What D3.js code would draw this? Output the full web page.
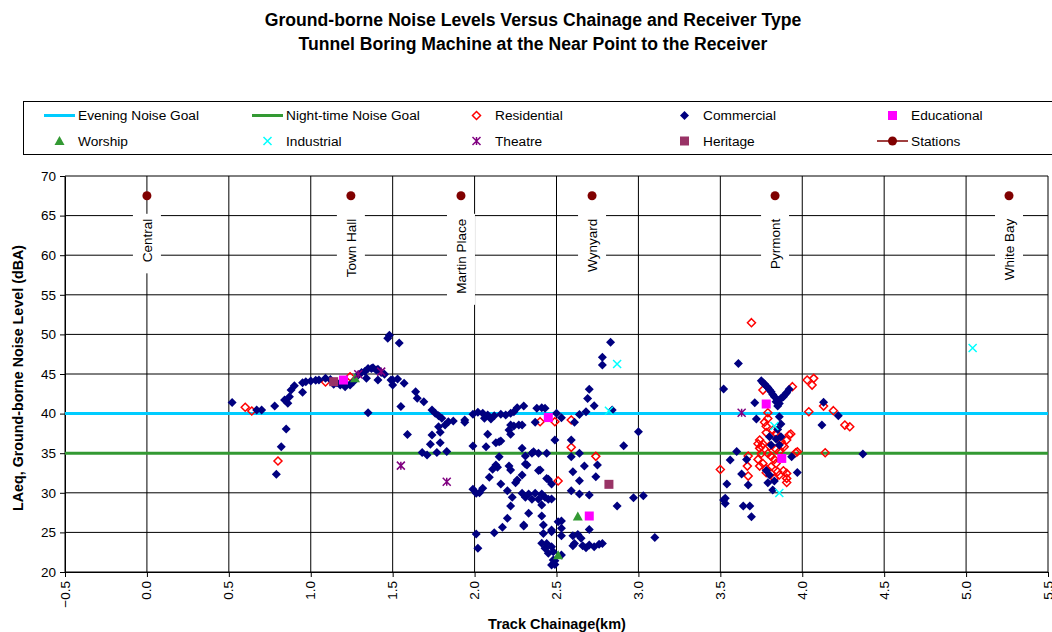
<!DOCTYPE html>
<html>
<head>
<meta charset="utf-8">
<script src="https://cdn.jsdelivr.net/npm/d3@7"></script>
<style>
  body { margin: 0; background: #fff; }
  svg { font-family: "Liberation Sans", Arial, sans-serif; }
</style>
</head>
<body>
<div id="chart"></div>
<script>
// ---- data: [chainage km, LAeq dBA] ----
const titleLines = ['Ground-borne Noise Levels Versus Chainage and Receiver Type',
  'Tunnel Boring Machine at the Near Point to the Receiver'];

const xTicks = [-0.5, 0.0, 0.5, 1.0, 1.5, 2.0, 2.5, 3.0, 3.5, 4.0, 4.5, 5.0, 5.5];
const yTicks = [20, 25, 30, 35, 40, 45, 50, 55, 60, 65, 70];

const eveningGoal = 40;
const nightGoal = 35;

const stationNames = ['Central', 'Town Hall', 'Martin Place', 'Wynyard', 'Pyrmont', 'White Bay'];
const stationKm = [0.0, 1.245, 1.917, 2.717, 3.834, 5.262];
const stationLevel = 67.5;

const residential = [
  [0.60, 40.8], [0.64, 40.33], [0.80, 34.01], [1.09, 44.0], [1.24, 44.66], [2.40, 38.98], [2.49, 38.98],
  [2.59, 39.19], [2.59, 35.74], [2.74, 34.6], [2.51, 31.5],
  [3.69, 51.48], [3.50, 32.95], [3.76, 42.97], [3.79, 40.11], [3.79, 39.39], [3.78, 38.4], [3.78, 37.6],
  [3.74, 36.66], [3.76, 36.16], [3.74, 35.61], [3.75, 34.97], [3.79, 34.97], [3.73, 34.22], [3.76, 33.71],
  [3.74, 33.37], [3.78, 33.08], [3.81, 33.29], [3.84, 33.71], [3.78, 32.53], [3.81, 32.45], [3.85, 32.66],
  [3.885, 32.78], [3.905, 32.45], [3.905, 31.82], [3.905, 31.31], [3.86, 32.24], [3.83, 31.82], [3.665, 33.37],
  [3.67, 32.11], [3.67, 34.64], [3.92, 37.29], [3.905, 36.66], [3.89, 35.82], [3.97, 35.18], [3.94, 43.4],
  [4.03, 44.24], [4.07, 44.45], [4.06, 43.6], [4.04, 40.24], [4.19, 40.37], [4.13, 40.95], [4.14, 35.06],
  [4.26, 38.55], [4.29, 38.34], [3.93, 37.42], [3.96, 35.06], [3.77, 38.9], [3.82, 37.9], [3.84, 37.5],
  [3.86, 37.0], [3.87, 36.5], [3.88, 36.0], [3.84, 35.5], [3.86, 35.2], [3.80, 35.9], [3.81, 34.6],
  [3.83, 34.2], [3.75, 35.9], [3.73, 36.2]
];

const commercial = [
  [0.52, 41.4], [0.67, 40.45], [0.70, 40.45], [0.78, 40.96], [0.85, 38.06], [0.82, 35.82], [0.79, 32.33],
  [0.84, 41.72], [0.86, 41.3], [0.87, 42.14], [0.88, 42.98], [0.90, 43.53], [0.95, 42.69], [0.95, 43.91],
  [0.97, 44.03], [1.00, 44.12], [1.03, 44.2], [1.05, 44.24], [1.09, 44.45], [1.12, 44.3], [1.14, 43.7],
  [1.16, 43.9], [1.18, 43.6], [1.21, 43.4], [1.22, 43.7], [1.24, 43.6], [1.26, 44.03], [1.29, 44.87],
  [1.31, 45.2], [1.33, 45.3], [1.34, 44.45], [1.35, 45.7], [1.37, 45.7], [1.38, 45.8], [1.40, 45.5],
  [1.41, 45.6], [1.41, 44.24], [1.43, 45.2], [1.45, 44.96], [1.49, 44.24], [1.35, 40.12], [1.47, 49.5],
  [1.48, 49.9],
  [1.54, 48.9], [1.50, 44.24], [1.53, 44.37], [1.57, 43.82], [1.50, 43.61], [1.64, 42.77], [1.65, 41.93],
  [1.69, 41.5], [1.55, 40.9], [1.74, 40.45], [1.76, 40.03], [1.78, 39.74], [1.80, 39.4], [1.84, 38.98],
  [1.87, 39.07], [1.82, 38.56], [1.78, 38.35], [1.79, 37.63], [1.74, 37.3], [1.59, 37.35], [1.94, 39.19],
  [1.94, 38.9], [1.73, 36.14], [1.79, 36.33], [1.68, 35.09], [1.71, 34.77], [1.77, 35.09], [1.83, 35.2],
  [1.99, 35.91], [1.99, 39.91],
  [2.02, 40.16], [2.05, 40.03], [2.06, 39.4], [2.08, 39.82], [2.10, 39.32], [2.12, 39.74], [2.16, 39.91],
  [2.19, 39.82], [2.22, 40.03], [2.24, 40.24], [2.26, 40.75], [2.30, 40.96], [2.38, 40.66], [2.41, 40.75],
  [2.43, 40.66], [2.22, 38.56], [2.24, 38.43], [2.27, 38.56], [2.29, 38.56], [2.21, 37.93], [2.22, 37.38],
  [2.16, 36.54], [2.08, 37.38], [2.37, 38.9], [2.50, 40.03], [2.49, 36.67],
  [1.99, 30.44], [2.01, 29.93], [2.05, 30.57], [2.03, 30.02], [2.07, 35.83], [2.13, 36.33], [2.15, 36.46],
  [2.15, 34.56], [2.13, 33.51], [2.11, 32.97], [2.14, 33.22], [2.09, 31.95], [2.16, 31.11], [2.21, 33.39],
  [2.22, 32.88], [2.20, 30.27], [2.25, 31.28], [2.29, 32.25], [2.29, 35.62], [2.31, 34.65], [2.32, 33.51],
  [2.35, 34.99], [2.39, 34.99], [2.44, 34.99], [2.39, 32.8], [2.45, 31.7], [2.47, 31.11], [2.23, 29.43],
  [2.22, 28.33], [2.20, 26.78], [2.29, 29.93], [2.31, 29.43], [2.33, 29.85], [2.35, 29.18], [2.37, 29.93],
  [2.39, 29.18], [2.41, 29.85], [2.43, 29.43], [2.45, 29.18], [2.41, 28.46], [2.33, 27.41], [2.30, 25.81],
  [2.41, 27.07], [2.42, 25.93], [2.47, 25.3], [2.41, 23.62], [2.43, 22.99], [2.45, 22.36], [2.47, 20.88],
  [2.49, 21.43], [2.17, 25.64], [2.12, 24.97], [2.01, 24.8], [2.02, 22.99], [2.51, 26.35], [2.26, 31.61],
  [2.31, 33.63], [2.36, 35.19], [2.40, 32.87], [2.44, 31.82], [2.44, 23.61], [2.42, 24.87], [2.30, 25.93],
  [2.48, 21.51], [2.47, 29.21], [2.47, 25.09], [2.47, 23.19], [2.48, 22.56], [2.49, 20.96],
  [2.70, 43.06], [2.69, 41.92], [2.73, 41.0], [2.68, 40.24], [2.64, 39.9], [2.61, 38.9], [2.53, 39.49],
  [2.84, 40.45], [3.00, 37.72], [2.91, 35.95], [2.59, 36.67], [2.64, 34.98], [2.59, 34.56], [2.75, 33.51],
  [2.67, 33.38], [2.60, 32.67], [2.64, 31.53], [2.74, 32.03], [2.59, 30.27], [2.64, 29.85], [2.70, 29.72],
  [2.97, 29.38], [3.03, 29.63], [2.87, 28.33], [2.70, 25.38], [2.53, 26.43], [2.53, 25.51], [2.53, 24.58],
  [2.60, 24.58], [2.63, 24.75], [2.65, 24.25], [2.60, 23.32], [2.66, 23.32], [2.68, 23.07], [2.73, 23.19],
  [2.76, 23.49], [2.78, 23.61], [3.10, 24.37], [2.83, 49.0], [2.78, 47.1], [2.78, 46.14], [2.53, 22.14],
  [2.70, 23.4], [2.61, 23.61],
  [3.61, 46.34], [3.52, 43.1], [3.60, 35.2], [3.56, 34.13], [3.66, 34.2], [3.63, 32.36], [3.67, 30.97],
  [3.54, 31.1], [3.52, 29.08], [3.53, 28.66], [3.53, 29.3], [3.64, 28.32], [3.68, 28.32], [3.69, 26.98],
  [3.71, 41.37], [3.72, 39.31],
  [3.75, 44.15], [3.76, 43.9], [3.77, 43.73], [3.78, 43.5], [3.79, 43.31], [3.80, 43.0], [3.81, 42.76],
  [3.82, 42.4], [3.83, 42.13], [3.84, 41.5], [3.85, 40.95], [3.86, 41.71], [3.87, 41.9], [3.885, 42.13],
  [3.895, 42.4], [3.905, 42.64], [3.92, 43.06], [3.86, 41.29],
  [3.86, 39.6], [3.87, 38.68], [3.87, 37.08], [3.80, 37.08], [3.81, 36.03], [3.86, 36.03], [3.935, 34.55],
  [3.97, 32.57], [3.80, 32.24], [3.79, 31.27], [3.82, 30.34], [4.13, 41.42], [4.22, 39.73], [4.12, 38.55],
  [4.37, 34.89], [3.85, 38.0], [3.84, 36.8], [3.78, 32.8], [3.83, 31.5]
];

const educational = [[1.20, 44.24], [2.45, 39.5], [2.70, 27.07], [3.78, 41.21], [3.875, 34.34]];
const worship = [[1.27, 44.45], [2.63, 27.0], [2.51, 22.1]];
const industrial = [[2.87, 46.26], [2.82, 40.37], [3.83, 38.43], [3.86, 29.97], [5.04, 48.28]];
const theatre = [[1.29, 44.96], [1.43, 45.3], [1.55, 33.43], [1.83, 31.4], [3.63, 40.11]];
const heritage = [[1.14, 44.03], [2.82, 31.07]];

// ---- drawing ----
class NoiseChart {
  constructor() {
    this.width = 1052;
    this.height = 632;
    this.plot = { left: 65, right: 1048, top: 176, bottom: 572 };

    this.x = d3.scaleLinear()
      .domain([-0.5, 5.5])
      .range([this.plot.left, this.plot.right]);

    this.y = d3.scaleLinear()
      .domain([20, 70])
      .range([this.plot.bottom, this.plot.top]);

    this.series = [
      { name: 'Residential', data: residential, shape: 'diamond', r: 4, fill: 'none', stroke: '#FF0000' },
      { name: 'Commercial', data: commercial, shape: 'diamond', r: 4.5, fill: '#000080', stroke: 'none' },
      { name: 'Educational', data: educational, shape: 'square', r: 4.5, fill: '#FF00FF', stroke: 'none' },
      { name: 'Worship', data: worship, shape: 'triangle', r: 5, fill: '#339933', stroke: 'none' },
      { name: 'Industrial', data: industrial, shape: 'cross', r: 4, fill: 'none', stroke: '#00FFFF' },
      { name: 'Theatre', data: theatre, shape: 'star', r: 4, fill: 'none', stroke: '#800080' },
      { name: 'Heritage', data: heritage, shape: 'square', r: 4.5, fill: '#993366', stroke: 'none' }
    ];
  }

  /**
   * Path for one marker, centred on 0,0.
   */
  markerPath(shape, r) {
    if (shape === 'diamond') return `M0,${-r}L${r},0L0,${r}L${-r},0Z`;
    if (shape === 'square') return `M${-r},${-r}h${2 * r}v${2 * r}h${-2 * r}Z`;
    if (shape === 'triangle') return `M0,${-r}L${r},${r * 0.8}L${-r},${r * 0.8}Z`;
    if (shape === 'cross') return `M${-r},${-r}L${r},${r}M${r},${-r}L${-r},${r}`;
    if (shape === 'star') return `M${-r},${-r}L${r},${r}M${r},${-r}L${-r},${r}M0,${-r}L0,${r}`;
    return d3.symbol(d3.symbolCircle, Math.PI * r * r)();
  }

  draw() {
    this.svg = d3.select('#chart').append('svg')
      .attr('width', this.width)
      .attr('height', this.height);

    this.svg.append('rect')
      .attr('width', this.width)
      .attr('height', this.height)
      .attr('fill', '#fff');

    this.drawTitle();
    this.drawLegend();
    this.drawGrid();
    this.drawAxes();
    this.drawGoals();
    this.drawSeries();
    this.drawStations();
  }

  drawTitle() {
    this.svg.append('g')
      .selectAll('text')
      .data(titleLines)
      .join('text')
      .attr('x', 533)
      .attr('y', (d, i) => 26 + i * 24)
      .attr('text-anchor', 'middle')
      .style('font-size', '17.6px')
      .style('font-weight', 'bold')
      .text(d => d);
  }

  /**
   * Legend box above the plot: two rows of five entries.
   * Each key is 31px wide, markers sit in the middle of it.
   */
  drawLegend() {
    let legend = this.svg.append('g').attr('id', 'legend');

    legend.append('rect')
      .attr('x', 23.5)
      .attr('y', 101.5)
      .attr('width', 1040)
      .attr('height', 53)
      .attr('fill', '#fff')
      .attr('stroke', '#000');

    let items = [
      { name: 'Evening Noise Goal', kind: 'line', color: '#00CCFF' },
      { name: 'Night-time Noise Goal', kind: 'line', color: '#339933' },
      this.series[0], this.series[1], this.series[2], this.series[3],
      this.series[4], this.series[5], this.series[6],
      { name: 'Stations', kind: 'station', color: '#800000' }
    ];
    let colX = [44, 252, 461, 669, 877];

    items.forEach((d, i) => {
      let cx = colX[i % 5];
      let cy = i < 5 ? 115.5 : 141;
      let g = legend.append('g').attr('transform', `translate(${cx},${cy})`);

      if (d.kind === 'line') {
        g.append('line')
          .attr('x1', 0).attr('x2', 31)
          .attr('stroke', d.color)
          .attr('stroke-width', 3);
      } else if (d.kind === 'station') {
        g.append('line')
          .attr('x1', 0).attr('x2', 31)
          .attr('stroke', d.color)
          .attr('stroke-width', 1.5);
        g.append('path')
          .attr('transform', 'translate(15.5,0)')
          .attr('d', this.markerPath('circle', 4.5))
          .attr('fill', d.color);
      } else {
        g.append('path')
          .attr('transform', 'translate(15.5,0)')
          .attr('d', this.markerPath(d.shape, d.r))
          .attr('fill', d.fill)
          .attr('stroke', d.stroke)
          .attr('stroke-width', 1.5);
      }

      g.append('text')
        .attr('x', 34)
        .attr('dy', '0.35em')
        .style('font-size', '13.7px')
        .text(d.name);
    });
  }

  drawGrid() {
    let grid = this.svg.append('g').attr('id', 'grid')
      .attr('stroke', '#000')
      .attr('stroke-width', 1);

    grid.selectAll('.hline')
      .data(yTicks)
      .join('line')
      .attr('class', 'hline')
      .attr('x1', this.plot.left)
      .attr('x2', this.plot.right)
      .attr('y1', d => this.y(d))
      .attr('y2', d => this.y(d));

    grid.selectAll('.vline')
      .data(xTicks)
      .join('line')
      .attr('class', 'vline')
      .attr('x1', d => this.x(d))
      .attr('x2', d => this.x(d))
      .attr('y1', this.plot.top)
      .attr('y2', this.plot.bottom);
  }

  drawAxes() {
    let yAxis = d3.axisLeft(this.y)
      .tickValues(yTicks)
      .tickSize(5)
      .tickPadding(4)
      .tickSizeOuter(0);

    let xAxis = d3.axisBottom(this.x)
      .tickValues(xTicks)
      .tickFormat(d3.format('.1f'))
      .tickSize(5)
      .tickSizeOuter(0);

    let gy = this.svg.append('g')
      .attr('transform', `translate(${this.plot.left},0)`)
      .call(yAxis);
    gy.selectAll('text').style('font-size', '13.5px').style('font-family', 'inherit');

    let gx = this.svg.append('g')
      .attr('transform', `translate(0,${this.plot.bottom})`)
      .call(xAxis);
    gx.selectAll('text')
      .style('font-size', '13.5px')
      .style('font-family', 'inherit')
      .attr('transform', 'rotate(-90)')
      .attr('x', -9)
      .attr('y', 0)
      .attr('dy', '0.3em')
      .style('text-anchor', 'end');

    this.svg.selectAll('.domain, .tick line').attr('stroke', '#000');

    this.svg.append('text')
      .attr('transform', `translate(23,${(this.plot.top + this.plot.bottom) / 2 + 4}) rotate(-90)`)
      .attr('text-anchor', 'middle')
      .style('font-size', '14.3px')
      .style('font-weight', 'bold')
      .text('LAeq, Ground-borne Noise Level (dBA)');

    this.svg.append('text')
      .attr('x', 557)
      .attr('y', 629)
      .attr('text-anchor', 'middle')
      .style('font-size', '14.5px')
      .style('font-weight', 'bold')
      .text('Track Chainage(km)');
  }

  drawGoals() {
    let goals = [
      { value: eveningGoal, color: '#00CCFF' },
      { value: nightGoal, color: '#339933' }
    ];
    this.svg.append('g')
      .selectAll('line')
      .data(goals)
      .join('line')
      .attr('x1', this.plot.left)
      .attr('x2', this.plot.right)
      .attr('y1', d => this.y(d.value))
      .attr('y2', d => this.y(d.value))
      .attr('stroke', d => d.color)
      .attr('stroke-width', 3);
  }

  drawSeries() {
    this.series.forEach(s => {
      this.svg.append('g')
        .attr('class', 'series')
        .selectAll('path')
        .data(s.data)
        .join('path')
        .attr('transform', d => `translate(${this.x(d[0])},${this.y(d[1])})`)
        .attr('d', this.markerPath(s.shape, s.r))
        .attr('fill', s.fill)
        .attr('stroke', s.stroke)
        .attr('stroke-width', 1.5);
    });
  }

  /**
   * Station markers with their rotated names in white boxes.
   */
  drawStations() {
    let stations = stationNames.map((name, i) => ({ name: name, km: stationKm[i] }));

    let g = this.svg.append('g')
      .selectAll('g')
      .data(stations)
      .join('g')
      .attr('transform', d => `translate(${this.x(d.km)},${this.y(stationLevel)})`);

    g.append('path')
      .attr('d', this.markerPath('circle', 4.5))
      .attr('fill', '#800000');

    let box = g.append('rect')
      .attr('x', -14)
      .attr('y', 18)
      .attr('width', 28)
      .attr('fill', '#fff');

    let labels = g.append('text')
      .attr('transform', 'rotate(-90)')
      .attr('x', -23)
      .attr('dy', '0.35em')
      .attr('text-anchor', 'end')
      .style('font-size', '13.5px')
      .text(d => d.name);

    labels.each(function (d) { d.len = this.getComputedTextLength(); });
    box.attr('height', d => d.len + 16);
  }
}

let chart = new NoiseChart();
chart.draw();
</script>
</body>
</html>
